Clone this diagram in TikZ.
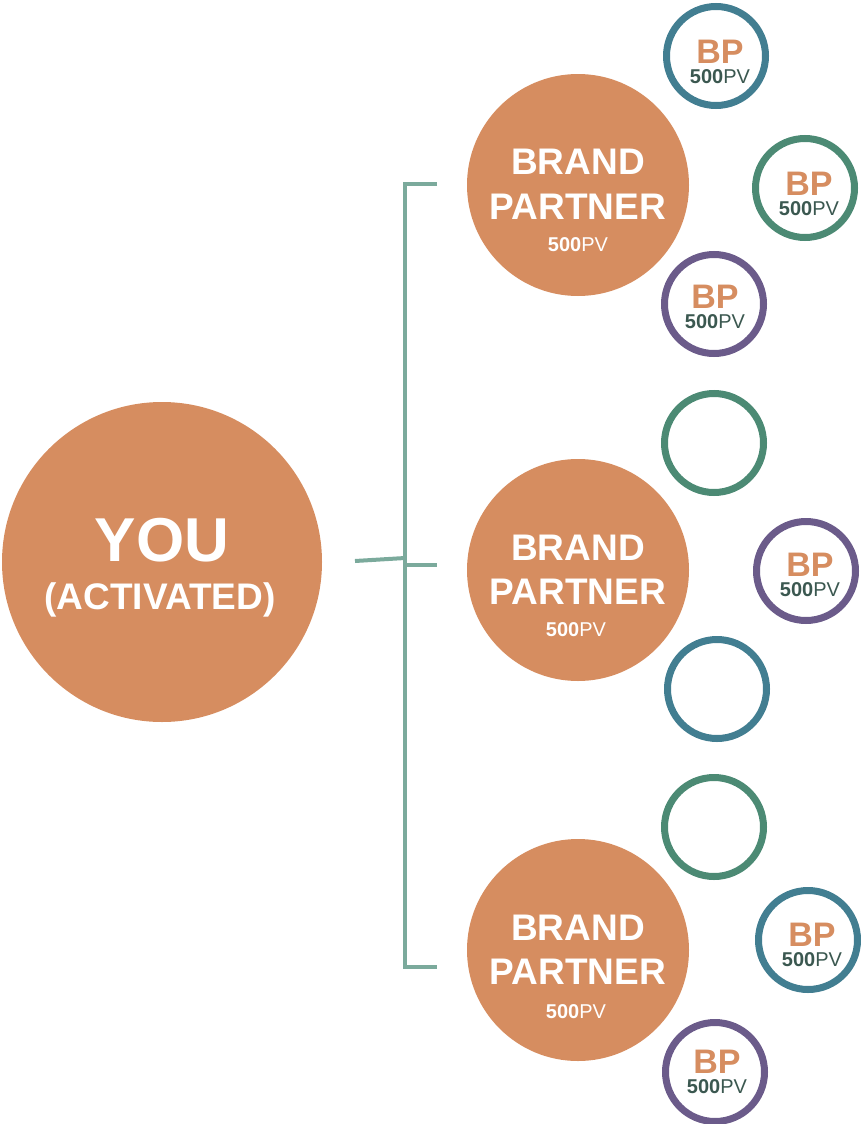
\documentclass[tikz,border=0pt]{standalone}
\usepackage{xcolor}
\usepackage{fontspec}
\setmainfont{Liberation Sans}
\usepackage{tikz}
\usetikzlibrary{positioning, calc}
\definecolor{partnercolor}{RGB}{214,141,96}
\definecolor{ringblue}{RGB}{66,126,145}
\definecolor{ringgreen}{RGB}{76,138,116}
\definecolor{ringpurple}{RGB}{107,91,138}
\definecolor{linkcolor}{RGB}{123,170,156}
\definecolor{pvcolor}{RGB}{59,88,80}
\newcommand{\bplabel}{{\fontsize{34}{34}\selectfont\bfseries\color{partnercolor}BP}\\\textbf{500}PV}

\begin{document}
\begin{tikzpicture}[
    x=1pt, y=-1pt,
    you/.style={circle, fill=partnercolor, minimum size=320pt, inner sep=0pt},
    partner/.style={circle, fill=partnercolor, minimum size=222pt, inner sep=0pt},
    ring/.style={circle, draw=#1, line width=7pt, fill=white, minimum size=99pt, inner sep=0pt},
    bigtext/.style={text=white, font=\fontsize{37}{37}\selectfont\bfseries, inner sep=0pt},
    pvtext/.style={text=white, font=\fontsize{20}{20}\selectfont, inner sep=0pt},
    bptext/.style={text=pvcolor, font=\fontsize{20}{20}\selectfont, align=center, anchor=north, inner sep=0pt},
    link/.style={draw=linkcolor, line width=4pt}
]
    \useasboundingbox (0,0) rectangle (861,1124);

    % You
    \node[you] (you) at (162,562) {};
    \node[text=white, font=\fontsize{62}{62}\selectfont\bfseries, inner sep=0pt] (youlbl) at (162,540) {YOU};
    \node[bigtext] (actlbl) at (160,600) {(ACTIVATED)};

    % Brand partners
    \node[partner] (bp1) at (578,185) {};
    \node[bigtext] (bp1a) at (578,162) {BRAND};
    \node[bigtext] (bp1b) at (578,207) {PARTNER};
    \node[pvtext] (bp1c) at (578,245) {\textbf{500}PV};

    \node[partner] (bp2) at (578,570) {};
    \node[bigtext] (bp2a) at (578,548) {BRAND};
    \node[bigtext] (bp2b) at (578,592) {PARTNER};
    \node[pvtext] (bp2c) at (576,630) {\textbf{500}PV};

    \node[partner] (bp3) at (578,950) {};
    \node[bigtext] (bp3a) at (578,928) {BRAND};
    \node[bigtext] (bp3b) at (578,972) {PARTNER};
    \node[pvtext] (bp3c) at (576,1012) {\textbf{500}PV};

    % Second level
    \node[ring=ringblue] (r11) at (716,56) {};
    \node[bptext] (r11lbl) at (720,40) {\bplabel};
    \node[ring=ringgreen] (r12) at (805,188) {};
    \node[bptext] (r12lbl) at (809,172) {\bplabel};
    \node[ring=ringpurple] (r13) at (714,304) {};
    \node[bptext] (r13lbl) at (715,285) {\bplabel};

    \node[ring=ringgreen] (r21) at (714,443) {};
    \node[ring=ringpurple] (r22) at (806,571) {};
    \node[bptext] (r22lbl) at (810,553) {\bplabel};
    \node[ring=ringblue] (r23) at (717,689) {};

    \node[ring=ringgreen] (r31) at (714,827) {};
    \node[ring=ringblue] (r32) at (808,940) {};
    \node[bptext] (r32lbl) at (812,923) {\bplabel};
    \node[ring=ringpurple] (r33) at (715,1072) {};
    \node[bptext] (r33lbl) at (717,1050) {\bplabel};

    % Bracket
    \coordinate (stem) at (355,561);
    \coordinate (hub) at (405,558);
    \coordinate (top) at (405,184);
    \coordinate (bot) at (405,967);
    \coordinate (end1) at (437,184);
    \coordinate (end2) at (437,565);
    \coordinate (end3) at (437,967);
    \draw[link] (stem) -- (hub);
    \draw[link] (end1) -- (top) -- (bot) -- (end3);
    \draw[link] (hub |- end2) -- (end2);
\end{tikzpicture}
\end{document}
